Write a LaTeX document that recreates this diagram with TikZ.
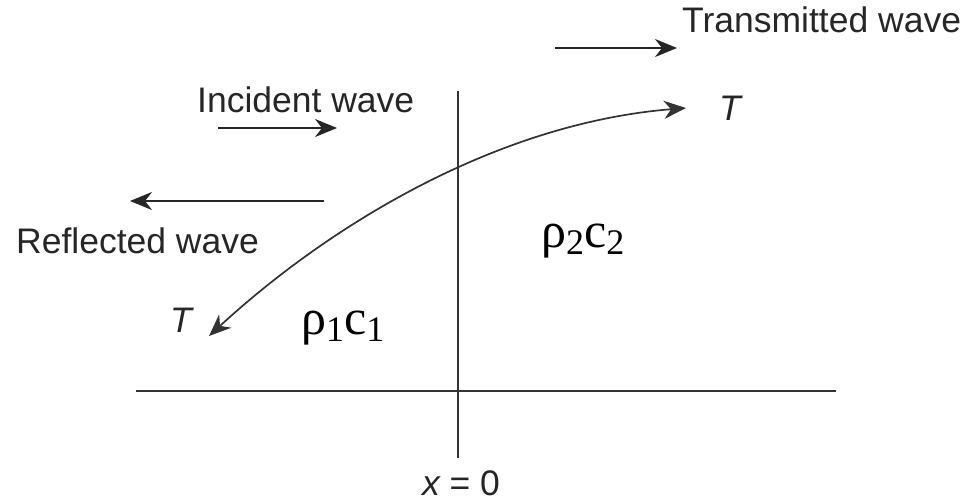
\documentclass[tikz,border=0pt]{standalone}
\usepackage{fontspec}
\setmainfont{Liberation Sans}
\newfontfamily\tnr{Liberation Serif}
\usetikzlibrary{arrows.meta}
\newcommand{\lowsub}[1]{\raisebox{-7pt}{\fontsize{36}{38}\selectfont #1}}
\begin{document}
\begin{tikzpicture}[x=1pt,y=-1pt,
  lbl/.style={inner sep=0pt, font=\fontsize{35.5}{40}\selectfont, text=black!85},
  rc/.style={inner sep=0pt, font=\tnr\fontsize{50}{56}\selectfont, text=black},
  ln/.style={line width=1.8pt, draw=black!80},
  tip/.tip={Stealth[length=22pt,width=18pt,inset=7pt]},
  arr/.style={line width=1.8pt, draw=black!85, -tip},
  darr/.style={line width=1.7pt, draw=black!80, tip-tip}]
\useasboundingbox (0,0) rectangle (963,501);
% axes
\coordinate (vt) at (458,91); \coordinate (vb) at (458,458);
\coordinate (hl) at (136,391); \coordinate (hr) at (836,391);
\draw[ln] (vt) -- (vb);
\draw[ln] (hl) -- (hr);
% straight arrows
\coordinate (ta) at (555,48); \coordinate (tb) at (677,48);
\coordinate (ia) at (218,128); \coordinate (ib) at (337,128);
\coordinate (ra) at (324,201); \coordinate (rb) at (130,201);
\draw[arr] (ta) -- (tb);
\draw[arr] (ia) -- (ib);
\draw[arr] (ra) -- (rb);
% curved double arrow
\coordinate (cs) at (686,108); \coordinate (ce) at (209,336);
\draw[darr] (cs) .. controls (500,123) and (333,222) .. (ce);
% labels
\node[lbl, anchor=base west] (tw) at (682,32) {Transmitted wave};
\node[lbl, anchor=base west] (iw) at (197,112) {Incident wave};
\node[lbl, anchor=base west] (rw) at (16,253) {Reflected wave};
\node[lbl, anchor=base] (t1) at (181,332) {\itshape T};
\node[lbl, anchor=base] (t2) at (730,120) {\itshape T};
\node[lbl, anchor=base] (x0) at (461,495) {\itshape x\upshape{} = 0};
\node[rc, anchor=base west] (m1) at (301,334) {ρ\lowsub{1}c\lowsub{1}};
\node[rc, anchor=base west] (m2) at (541,247) {ρ\lowsub{2}c\lowsub{2}};
\end{tikzpicture}
\end{document}
